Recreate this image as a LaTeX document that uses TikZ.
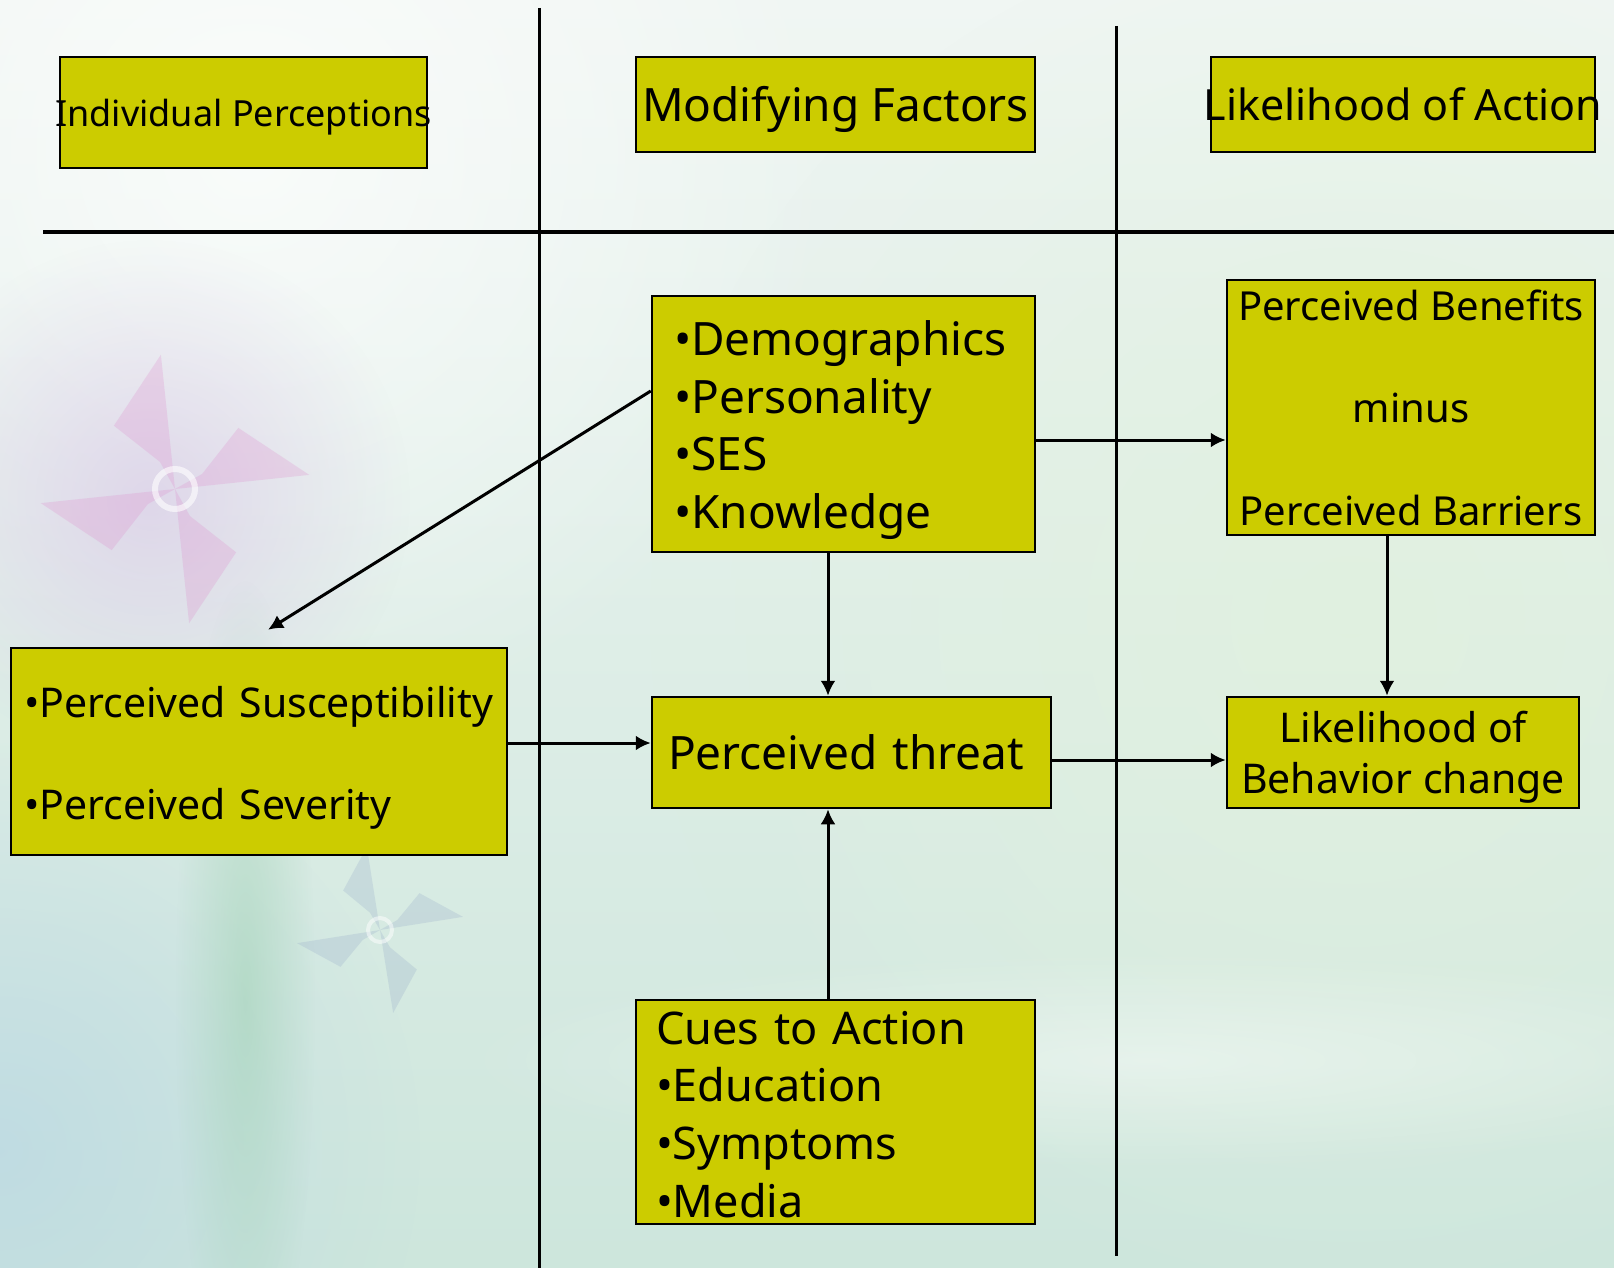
\documentclass[tikz,border=0pt]{standalone}
\usepackage{fontspec}
\setmainfont{Noto Sans}
\usetikzlibrary{arrows.meta}
\usetikzlibrary{fadings}
\definecolor{boxfill}{RGB}{204,204,0}
\definecolor{bgtop}{RGB}{240,246,243}
\definecolor{bgbot}{RGB}{205,230,220}
\definecolor{bgright}{RGB}{225,241,222}
\definecolor{bgblue}{RGB}{185,215,228}
\definecolor{lavender}{RGB}{215,195,230}
\definecolor{pinkwing}{RGB}{222,140,205}
\definecolor{bluewing}{RGB}{160,180,205}
\definecolor{stickgreen}{RGB}{150,205,170}
\tikzfading[name=softglow, inner color=transparent!0, outer color=transparent!100]
% invisible strut that pushes a node's text down a little
\newcommand{\padtop}[1]{\rule{0pt}{#1pt}}

\begin{document}
\begin{tikzpicture}[x=1pt,y=-1pt]
\tikzset{box/.style = {draw, fill=boxfill, line width=2.5pt, inner sep=0pt}}
\tikzset{edge/.style = {-{Latex[length=15pt,width=15pt]}, line width=3pt}}
\tikzset{divider/.style = {line width=3pt}}
\useasboundingbox (0,0) rectangle (1614,1268);

% background
\shade[top color=bgtop, bottom color=bgbot] (0,0) rectangle (1614,1268);
\fill[bgright, opacity=0.8, path fading=softglow] (1350,620) circle (700);
\fill[bgblue, opacity=0.7, path fading=softglow] (0,1150) circle (420);
\fill[white, opacity=0.7, path fading=softglow] (250,150) circle (600);
\fill[lavender, opacity=0.6, path fading=softglow] (150,500) circle (260);
\fill[white, opacity=0.4, path fading=softglow] (1150,1060) ellipse (700 and 110);
\fill[stickgreen, opacity=0.45, path fading=softglow] (245,1000) ellipse (70 and 420);

% pinwheels
\fill[pinkwing, opacity=0.25] (175,489) -- +(-29:31) -- +(-44:88) -- +(-6:135) -- cycle;
\fill[pinkwing, opacity=0.25] (175,489) -- +(-119:31) -- +(-134:88) -- +(-96:135) -- cycle;
\fill[pinkwing, opacity=0.25] (175,489) -- +(-209:31) -- +(-224:88) -- +(-186:135) -- cycle;
\fill[pinkwing, opacity=0.25] (175,489) -- +(-299:31) -- +(-314:88) -- +(-276:135) -- cycle;
\draw[white, opacity=0.6, line width=6pt] (175,489) circle (20);
\fill[bluewing, opacity=0.3] (380,930) -- +(-30:20) -- +(-43:54) -- +(-9:84) -- cycle;
\fill[bluewing, opacity=0.3] (380,930) -- +(-120:20) -- +(-133:54) -- +(-99:84) -- cycle;
\fill[bluewing, opacity=0.3] (380,930) -- +(-210:20) -- +(-223:54) -- +(-189:84) -- cycle;
\fill[bluewing, opacity=0.3] (380,930) -- +(-300:20) -- +(-313:54) -- +(-279:84) -- cycle;
\draw[white, opacity=0.5, line width=4pt] (380,930) circle (12);

% column and header rules
\draw[divider] (539,8) -- (539,1268);
\draw[divider] (1116,26) -- (1116,1256);
\draw[divider] (43,232) -- (1614,232);

% headers
\node[box, minimum width=367, minimum height=111, font={\fontsize{36}{44}\selectfont}] (indiv) at (243.5,112.5)
  {\makebox[0pt]{\padtop{37}Individual Perceptions}};
\node[box, minimum width=399, minimum height=95, font={\fontsize{46}{55}\selectfont}] (modif) at (835.5,104.5)
  {\makebox[0pt]{\padtop{45}Modifying Factors}};
\node[box, minimum width=384, minimum height=95, font={\fontsize{43}{52}\selectfont}] (likeact) at (1403,104.5)
  {\makebox[0pt]{Likelihood of Action}};

% model
\node[box, text width=339, inner xsep=22, minimum height=256, align=left, font={\fontsize{46}{57.6}\selectfont}] (demog) at (843.5,424)
  {\padtop{47}•Demographics\\•Personality\\•SES\\•Knowledge};
\node[box, minimum width=368, minimum height=255, align=center, font={\fontsize{40}{102.5}\selectfont}] (benef) at (1411,407.5)
  {Perceived Benefits\\minus\\Perceived Barriers};
\node[box, text width=470, inner xsep=13, minimum height=207, align=left, font={\fontsize{41}{102}\selectfont}] (susc) at (259,751.5)
  {\padtop{43}\mbox{•Perceived Susceptibility}\\\mbox{•Perceived Severity}};
\node[box, text width=367, inner xsep=16, minimum height=111, align=left, font={\fontsize{46}{55}\selectfont}] (threat) at (851.5,752.5)
  {Perceived threat};
\node[box, minimum width=352, minimum height=111, align=center, font={\fontsize{41}{51.5}\selectfont}] (behav) at (1403,752.5)
  {\padtop{41}Likelihood of\\Behavior change};
\node[box, text width=359, inner xsep=20, minimum height=224, align=left, font={\fontsize{45}{57.6}\selectfont}] (cues) at (835.5,1112)
  {\padtop{38}Cues to Action\\•Education\\•Symptoms\\•Media};

% arrows
\coordinate (d1) at ([yshift=-16pt]demog.east);
\coordinate (d2) at ([xshift=-15.5pt]demog.south);
\coordinate (b1) at ([xshift=-24pt]benef.south);
\coordinate (s1) at ([yshift=8.5pt]susc.east);
\coordinate (t1) at ([yshift=-7.5pt]threat.east);
\coordinate (c1) at ([xshift=-7.5pt]cues.north);
\draw[edge] ([yshift=33pt]demog.west) -- ([xshift=9pt,yshift=17pt]susc.north);
\draw[edge] (d1) -- (d1 -| benef.west);
\draw[edge] (d2) -- (d2 |- threat.north);
\draw[edge] (b1) -- (b1 |- behav.north);
\draw[edge] (s1) -- (s1 -| threat.west);
\draw[edge] (t1) -- (t1 -| behav.west);
\draw[edge] (c1) -- (c1 |- threat.south);
\end{tikzpicture}
\end{document}
